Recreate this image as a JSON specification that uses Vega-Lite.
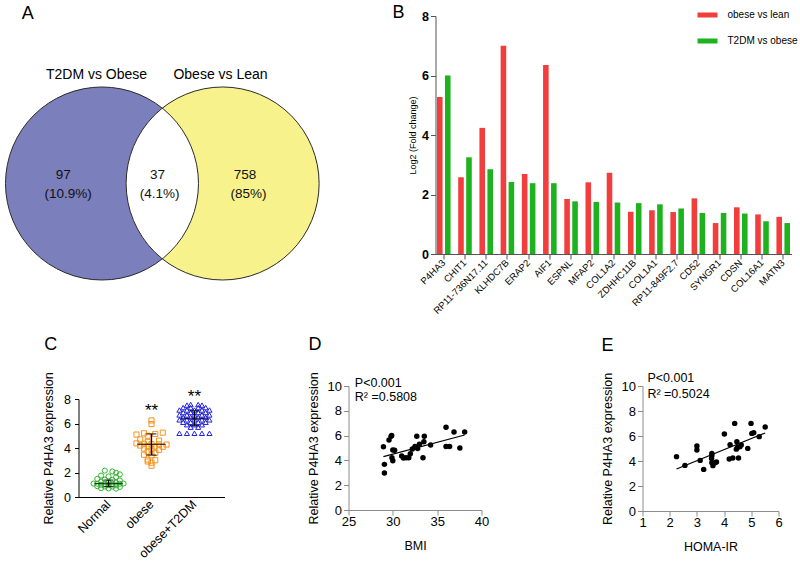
{
  "$schema": "https://vega.github.io/schema/vega-lite/v6.json",
  "background": "white",
  "padding": {"left": 2.5, "top": 4, "right": 5, "bottom": 5},
  "config": {
    "view": {"stroke": null},
    "font": "Liberation Sans",
    "axis": {"grid": false, "labelOverlap": false, "labelColor": "#000", "titleColor": "#000", "titleFontWeight": "normal", "labelFont": "Liberation Sans", "titleFont": "Liberation Sans"}
  },
  "datasets": {
    "vennL": [{"x": 0, "y": 0, "set": "T2DM vs Obese"}],
    "vennR": [{"x": 1.25, "y": 0, "set": "Obese vs Lean"}],
    "venn": [{"x": 0, "y": 0, "set": "T2DM vs Obese"}, {"x": 1.25, "y": 0, "set": "Obese vs Lean"}],
    "lens": [{"x": 0.625, "y": 0}],
    "vennTitles": [{"x": -0.057, "y": 1.126, "t": "T2DM vs Obese"}, {"x": 1.228, "y": 1.126, "t": "Obese vs Lean"}],
    "vennNums": [
      {"x": -0.401, "y": 0.083, "t": "97"}, {"x": -0.35, "y": -0.112, "t": "(10.9%)"},
      {"x": 0.575, "y": 0.083, "t": "37"}, {"x": 0.596, "y": -0.112, "t": "(4.1%)"},
      {"x": 1.482, "y": 0.083, "t": "758"}, {"x": 1.518, "y": -0.112, "t": "(85%)"}
    ],
    "letterA": [{"x": -0.769, "y": 1.756, "t": "A"}],
    "genes": [
      {"gene": "P4HA3", "series": "obese vs lean", "value": 5.28}, {"gene": "P4HA3", "series": "T2DM vs obese", "value": 6.0},
      {"gene": "CHIT1", "series": "obese vs lean", "value": 2.58}, {"gene": "CHIT1", "series": "T2DM vs obese", "value": 3.25},
      {"gene": "RP11-736N17.11", "series": "obese vs lean", "value": 4.24}, {"gene": "RP11-736N17.11", "series": "T2DM vs obese", "value": 2.85},
      {"gene": "KLHDC7B", "series": "obese vs lean", "value": 7.0}, {"gene": "KLHDC7B", "series": "T2DM vs obese", "value": 2.42},
      {"gene": "ERAP2", "series": "obese vs lean", "value": 2.69}, {"gene": "ERAP2", "series": "T2DM vs obese", "value": 2.38},
      {"gene": "AIF1", "series": "obese vs lean", "value": 6.35}, {"gene": "AIF1", "series": "T2DM vs obese", "value": 2.38},
      {"gene": "ESPNL", "series": "obese vs lean", "value": 1.85}, {"gene": "ESPNL", "series": "T2DM vs obese", "value": 1.77},
      {"gene": "MFAP2", "series": "obese vs lean", "value": 2.41}, {"gene": "MFAP2", "series": "T2DM vs obese", "value": 1.75},
      {"gene": "COL1A2", "series": "obese vs lean", "value": 2.73}, {"gene": "COL1A2", "series": "T2DM vs obese", "value": 1.73},
      {"gene": "ZDHHC11B", "series": "obese vs lean", "value": 1.42}, {"gene": "ZDHHC11B", "series": "T2DM vs obese", "value": 1.71},
      {"gene": "COL1A1", "series": "obese vs lean", "value": 1.47}, {"gene": "COL1A1", "series": "T2DM vs obese", "value": 1.67},
      {"gene": "RP11-849F2.7", "series": "obese vs lean", "value": 1.41}, {"gene": "RP11-849F2.7", "series": "T2DM vs obese", "value": 1.53},
      {"gene": "CD52", "series": "obese vs lean", "value": 1.87}, {"gene": "CD52", "series": "T2DM vs obese", "value": 1.38},
      {"gene": "SYNGR1", "series": "obese vs lean", "value": 1.04}, {"gene": "SYNGR1", "series": "T2DM vs obese", "value": 1.38},
      {"gene": "CDSN", "series": "obese vs lean", "value": 1.57}, {"gene": "CDSN", "series": "T2DM vs obese", "value": 1.36},
      {"gene": "COL16A1", "series": "obese vs lean", "value": 1.33}, {"gene": "COL16A1", "series": "T2DM vs obese", "value": 1.1},
      {"gene": "MATN3", "series": "obese vs lean", "value": 1.25}, {"gene": "MATN3", "series": "T2DM vs obese", "value": 1.04}
    ],
    "letterB": [{"x": -0.104, "value": 8.1, "t": "B"}],
    "cpts": [
      {"g": "Normal", "v": 2.15, "s": -1}, {"g": "Normal", "v": 2.08, "s": 1}, {"g": "Normal", "v": 1.98, "s": 2}, {"g": "Normal", "v": 1.85, "s": 3},
      {"g": "Normal", "v": 1.75, "s": -2}, {"g": "Normal", "v": 1.68, "s": 0}, {"g": "Normal", "v": 1.62, "s": 2},
      {"g": "Normal", "v": 1.48, "s": -3}, {"g": "Normal", "v": 1.42, "s": -1}, {"g": "Normal", "v": 1.4, "s": 1}, {"g": "Normal", "v": 1.35, "s": 3},
      {"g": "Normal", "v": 1.25, "s": -2}, {"g": "Normal", "v": 1.2, "s": 0}, {"g": "Normal", "v": 1.18, "s": 2},
      {"g": "Normal", "v": 1.1, "s": -4}, {"g": "Normal", "v": 1.08, "s": -3}, {"g": "Normal", "v": 1.05, "s": -1}, {"g": "Normal", "v": 1.05, "s": 1}, {"g": "Normal", "v": 1.08, "s": 3}, {"g": "Normal", "v": 1.1, "s": 4},
      {"g": "Normal", "v": 1.0, "s": -2}, {"g": "Normal", "v": 0.98, "s": 0}, {"g": "Normal", "v": 0.95, "s": 2},
      {"g": "Normal", "v": 0.88, "s": -3}, {"g": "Normal", "v": 0.85, "s": -1}, {"g": "Normal", "v": 0.85, "s": 1}, {"g": "Normal", "v": 0.82, "s": 3},
      {"g": "Normal", "v": 0.72, "s": -2}, {"g": "Normal", "v": 0.7, "s": 0}, {"g": "Normal", "v": 0.68, "s": 2},
      {"g": "obese", "v": 6.25, "s": 0}, {"g": "obese", "v": 5.95, "s": 0},
      {"g": "obese", "v": 5.25, "s": 3}, {"g": "obese", "v": 5.2, "s": -2}, {"g": "obese", "v": 5.15, "s": 1}, {"g": "obese", "v": 5.1, "s": -4}, {"g": "obese", "v": 5.0, "s": -1},
      {"g": "obese", "v": 4.7, "s": -3}, {"g": "obese", "v": 4.6, "s": 2}, {"g": "obese", "v": 4.5, "s": -1},
      {"g": "obese", "v": 4.38, "s": -4}, {"g": "obese", "v": 4.35, "s": -2}, {"g": "obese", "v": 4.32, "s": 0}, {"g": "obese", "v": 4.3, "s": 2}, {"g": "obese", "v": 4.28, "s": 4},
      {"g": "obese", "v": 4.2, "s": -3}, {"g": "obese", "v": 4.15, "s": -1}, {"g": "obese", "v": 4.12, "s": 1}, {"g": "obese", "v": 4.1, "s": 3},
      {"g": "obese", "v": 3.95, "s": -2}, {"g": "obese", "v": 3.9, "s": 0}, {"g": "obese", "v": 3.85, "s": 2},
      {"g": "obese", "v": 3.7, "s": -1}, {"g": "obese", "v": 3.6, "s": 1},
      {"g": "obese", "v": 3.45, "s": -2}, {"g": "obese", "v": 3.4, "s": 0},
      {"g": "obese", "v": 3.05, "s": -1}, {"g": "obese", "v": 3.0, "s": 1}, {"g": "obese", "v": 2.9, "s": -1}, {"g": "obese", "v": 2.8, "s": 0}, {"g": "obese", "v": 2.55, "s": 0},
      {"g": "obese+T2DM", "v": 7.55, "s": -1}, {"g": "obese+T2DM", "v": 7.55, "s": 1}, {"g": "obese+T2DM", "v": 7.5, "s": -2}, {"g": "obese+T2DM", "v": 7.5, "s": 2},
      {"g": "obese+T2DM", "v": 7.3, "s": -3}, {"g": "obese+T2DM", "v": 7.3, "s": -1}, {"g": "obese+T2DM", "v": 7.3, "s": 1}, {"g": "obese+T2DM", "v": 7.3, "s": 3},
      {"g": "obese+T2DM", "v": 7.1, "s": -4}, {"g": "obese+T2DM", "v": 7.1, "s": -2}, {"g": "obese+T2DM", "v": 7.1, "s": 0}, {"g": "obese+T2DM", "v": 7.1, "s": 2}, {"g": "obese+T2DM", "v": 7.1, "s": 4},
      {"g": "obese+T2DM", "v": 6.9, "s": -3}, {"g": "obese+T2DM", "v": 6.9, "s": -1}, {"g": "obese+T2DM", "v": 6.9, "s": 1}, {"g": "obese+T2DM", "v": 6.9, "s": 3},
      {"g": "obese+T2DM", "v": 6.7, "s": -4}, {"g": "obese+T2DM", "v": 6.7, "s": -2}, {"g": "obese+T2DM", "v": 6.7, "s": 0}, {"g": "obese+T2DM", "v": 6.7, "s": 2}, {"g": "obese+T2DM", "v": 6.7, "s": 4},
      {"g": "obese+T2DM", "v": 6.5, "s": -3}, {"g": "obese+T2DM", "v": 6.5, "s": -1}, {"g": "obese+T2DM", "v": 6.5, "s": 1}, {"g": "obese+T2DM", "v": 6.5, "s": 3},
      {"g": "obese+T2DM", "v": 6.3, "s": -4}, {"g": "obese+T2DM", "v": 6.3, "s": -2}, {"g": "obese+T2DM", "v": 6.3, "s": 0}, {"g": "obese+T2DM", "v": 6.3, "s": 2}, {"g": "obese+T2DM", "v": 6.3, "s": 4},
      {"g": "obese+T2DM", "v": 6.1, "s": -3}, {"g": "obese+T2DM", "v": 6.1, "s": -1}, {"g": "obese+T2DM", "v": 6.1, "s": 1}, {"g": "obese+T2DM", "v": 6.1, "s": 3},
      {"g": "obese+T2DM", "v": 5.9, "s": -2}, {"g": "obese+T2DM", "v": 5.9, "s": 0}, {"g": "obese+T2DM", "v": 5.9, "s": 2},
      {"g": "obese+T2DM", "v": 5.7, "s": -1}, {"g": "obese+T2DM", "v": 5.7, "s": 1},
      {"g": "obese+T2DM", "v": 5.2, "s": -4}, {"g": "obese+T2DM", "v": 5.2, "s": -2}, {"g": "obese+T2DM", "v": 5.2, "s": 0}, {"g": "obese+T2DM", "v": 5.2, "s": 2}, {"g": "obese+T2DM", "v": 5.2, "s": 4}
    ],
    "cstats": [
      {"g": "Normal", "v": 1.1, "lo": 0.85, "hi": 1.38},
      {"g": "obese", "v": 4.3, "lo": 3.42, "hi": 5.15},
      {"g": "obese+T2DM", "v": 6.42, "lo": 5.82, "hi": 7.05}
    ],
    "cstars": [{"g": "obese", "v": 7.0, "t": "**"}, {"g": "obese+T2DM", "v": 8.2, "t": "**"}],
    "letterC": [{"x": -0.19, "v": 12.38, "t": "C"}],
    "dpts": [
      {"x": 28.94, "y": 5.1}, {"x": 29.05, "y": 3.68}, {"x": 29.05, "y": 2.98}, {"x": 29.57, "y": 5.65}, {"x": 29.8, "y": 5.94},
      {"x": 29.87, "y": 6.0}, {"x": 30.0, "y": 4.84}, {"x": 30.2, "y": 4.81}, {"x": 29.9, "y": 4.22}, {"x": 30.0, "y": 3.98},
      {"x": 31.0, "y": 4.35}, {"x": 31.2, "y": 4.19}, {"x": 31.5, "y": 4.22}, {"x": 31.8, "y": 4.22}, {"x": 31.97, "y": 4.54},
      {"x": 32.2, "y": 4.92}, {"x": 32.5, "y": 5.13}, {"x": 32.7, "y": 5.94}, {"x": 32.8, "y": 4.95}, {"x": 33.0, "y": 5.3},
      {"x": 33.4, "y": 4.22}, {"x": 33.5, "y": 5.51}, {"x": 33.55, "y": 5.94}, {"x": 34.26, "y": 5.24}, {"x": 36.0, "y": 6.67},
      {"x": 36.0, "y": 5.13}, {"x": 36.4, "y": 5.13}, {"x": 36.9, "y": 6.29}, {"x": 37.56, "y": 5.0}, {"x": 38.1, "y": 6.29}
    ],
    "dline": [{"x": 28.94, "y": 4.3}, {"x": 38.1, "y": 6.05}],
    "dtext": [{"x": 25.71, "y": 10.26, "t": "P<0.001"}, {"x": 25.71, "y": 9.14, "t": "R² =0.5808"}],
    "letterD": [{"x": 21.22, "y": 13.29, "t": "D"}],
    "epts": [
      {"x": 2.25, "y": 4.35}, {"x": 2.56, "y": 3.65}, {"x": 3.0, "y": 5.2}, {"x": 3.0, "y": 4.88}, {"x": 3.12, "y": 4.05},
      {"x": 3.25, "y": 3.33}, {"x": 3.55, "y": 4.61}, {"x": 3.54, "y": 4.21}, {"x": 3.55, "y": 3.87}, {"x": 3.59, "y": 3.63},
      {"x": 3.67, "y": 3.87}, {"x": 3.72, "y": 3.92}, {"x": 4.01, "y": 6.16}, {"x": 4.19, "y": 4.16}, {"x": 4.22, "y": 5.31},
      {"x": 4.32, "y": 4.24}, {"x": 4.39, "y": 7.01}, {"x": 4.47, "y": 5.55}, {"x": 4.49, "y": 5.09}, {"x": 4.53, "y": 4.24},
      {"x": 4.58, "y": 5.15}, {"x": 4.63, "y": 5.28}, {"x": 4.87, "y": 5.01}, {"x": 4.99, "y": 7.01}, {"x": 5.02, "y": 6.21},
      {"x": 5.09, "y": 6.27}, {"x": 5.29, "y": 5.95}, {"x": 5.51, "y": 6.72}, {"x": 3.55, "y": 4.45}, {"x": 4.45, "y": 4.95}
    ],
    "eline": [{"x": 2.25, "y": 3.36}, {"x": 5.51, "y": 6.24}],
    "etext": [{"x": 1.18, "y": 10.62, "t": "P<0.001"}, {"x": 1.18, "y": 9.38, "t": "R² =0.5024"}],
    "letterE": [{"x": -0.287, "y": 13.22, "t": "E"}]
  },
  "vconcat": [
    {
      "hconcat": [
        {
          "width": 254,
          "height": 238,
          "encoding": {
            "x": {"field": "x", "type": "quantitative", "scale": {"domain": [-0.2435, 2.3886], "nice": false, "zero": false}, "axis": null},
            "y": {"field": "y", "type": "quantitative", "scale": {"domain": [-0.7306, 1.7358], "nice": false, "zero": false}, "axis": null}
          },
          "layer": [
            {
              "data": {"name": "vennL"},
              "mark": {"type": "point", "shape": "circle", "filled": true, "size": 37249, "color": "#7b7fbb", "opacity": 1, "strokeWidth": 0}
            },
            {
              "data": {"name": "vennR"},
              "mark": {"type": "point", "shape": "circle", "filled": true, "size": 37249, "color": "#f7f28b", "opacity": 1, "strokeWidth": 0}
            },
            {
              "data": {"name": "lens"},
              "mark": {"type": "point", "shape": "M0,-0.7806A1,1,0,0,1,0,0.7806A1,1,0,0,1,0,-0.7806Z", "filled": true, "size": 37249, "color": "#ffffff", "opacity": 1, "strokeWidth": 0}
            },
            {
              "data": {"name": "venn"},
              "mark": {"type": "point", "shape": "circle", "filled": false, "size": 37249, "color": "#2a2a2a", "strokeWidth": 1, "opacity": 1}
            },
            {
              "data": {"name": "vennTitles"},
              "mark": {"type": "text", "fontSize": 14, "align": "center", "baseline": "middle", "color": "#000"},
              "encoding": {"text": {"field": "t"}}
            },
            {
              "data": {"name": "vennNums"},
              "mark": {"type": "text", "fontSize": 13.5, "align": "center", "baseline": "middle", "color": "#111"},
              "encoding": {"text": {"field": "t"}}
            },
            {
              "data": {"name": "letterA"},
              "mark": {"type": "text", "fontSize": 18, "align": "center", "baseline": "middle", "color": "#000"},
              "encoding": {"text": {"field": "t"}}
            }
          ]
        },
        {
          "width": 356,
          "height": 238,
          "layer": [
            {
              "data": {"name": "genes"},
              "mark": {"type": "bar"},
              "encoding": {
                "x": {"field": "gene", "type": "nominal", "sort": null, "title": null,
                  "scale": {"paddingInner": 0.36, "paddingOuter": 0.07},
                  "axis": {"labelAngle": -45, "labelAlign": "right", "labelBaseline": "middle", "tickSize": 5, "labelPadding": 2, "labelFontSize": 9.5, "domainColor": "#555", "tickColor": "#555"}},
                "xOffset": {"field": "series", "type": "nominal", "sort": ["obese vs lean", "T2DM vs obese"], "scale": {"domain": ["obese vs lean", "T2DM vs obese"], "paddingInner": 0.3}},
                "y": {"field": "value", "type": "quantitative", "title": "Log2 (Fold change)",
                  "scale": {"domain": [0, 8], "nice": false},
                  "axis": {"values": [0, 2, 4, 6, 8], "tickSize": 5, "labelPadding": 2, "labelFontSize": 12.5, "labelFontWeight": "bold", "titleFontSize": 9, "titlePadding": 4, "domainColor": "#555", "tickColor": "#555"}},
                "color": {"field": "series", "type": "nominal", "sort": ["obese vs lean", "T2DM vs obese"],
                  "scale": {"domain": ["obese vs lean", "T2DM vs obese"], "range": ["#f23d3d", "#1fb21f"]},
                  "legend": {"orient": "none", "legendX": 262, "legendY": -11, "title": null, "symbolType": "M-1,-0.25H1V0.25H-1Z", "symbolSize": 400, "symbolStrokeWidth": 0, "labelFontSize": 10, "labelOffset": 10, "rowPadding": 11, "padding": 0}}
              }
            },
            {
              "data": {"name": "letterB"},
              "mark": {"type": "text", "fontSize": 18, "align": "center", "baseline": "middle", "color": "#000"},
              "encoding": {
                "x": {"field": "x", "type": "quantitative", "scale": {"domain": [0, 1], "nice": false}, "axis": null},
                "y": {"field": "value", "type": "quantitative", "title": "Log2 (Fold change)", "scale": {"domain": [0, 8], "nice": false},
                  "axis": {"values": [0, 2, 4, 6, 8], "tickSize": 5, "labelPadding": 2, "labelFontSize": 12.5, "labelFontWeight": "bold", "titleFontSize": 9, "titlePadding": 4, "domainColor": "#555", "tickColor": "#555"}},
                "text": {"field": "t"}
              }
            }
          ],
          "resolve": {"scale": {"x": "independent"}}
        }
      ],
      "spacing": 103,
      "bounds": "flush",
      "resolve": {"scale": {"color": "independent", "xOffset": "independent"}}
    },
    {
      "hconcat": [
        {
          "hconcat": [
            {
              "width": 146,
              "height": 98,
              "layer": [
                {
                  "layer": [
                    {
                      "data": {"name": "cpts"},
                      "mark": {"type": "point", "filled": false, "size": 26, "strokeWidth": 1, "opacity": 1},
                      "encoding": {
                        "x": {"field": "g", "type": "nominal", "title": null, "scale": {"domain": ["Normal", "obese", "obese+T2DM"], "paddingInner": 0.3, "paddingOuter": 0.35},
                          "axis": {"labelAngle": -45, "labelAlign": "right", "labelBaseline": "middle", "ticks": false, "labelPadding": 5, "labelFontSize": 12.5, "domainColor": "#000"}},
                        "xOffset": {"field": "s", "type": "ordinal", "scale": {"domain": [-4, -3, -2, -1, 0, 1, 2, 3, 4], "paddingInner": 0, "paddingOuter": 0}},
                        "y": {"field": "v", "type": "quantitative", "title": "Relative P4HA3 expression", "scale": {"domain": [0, 8], "nice": false},
                          "axis": {"values": [0, 2, 4, 6, 8], "tickSize": 4, "labelPadding": 4, "labelFontSize": 12.5, "titleFontSize": 12.5, "titlePadding": 8, "domainColor": "#000", "tickColor": "#000"}},
                        "color": {"field": "g", "type": "nominal", "scale": {"domain": ["Normal", "obese", "obese+T2DM"], "range": ["#33b233", "#f7931e", "#2222dd"]}, "legend": null},
                        "shape": {"field": "g", "type": "nominal", "scale": {"domain": ["Normal", "obese", "obese+T2DM"], "range": ["circle", "square", "triangle-up"]}, "legend": null}
                      }
                    },
                    {
                      "data": {"name": "cstats"},
                      "mark": {"type": "tick", "orient": "horizontal", "size": 28, "thickness": 1.3, "color": "#000"},
                      "encoding": {
                        "x": {"field": "g", "type": "nominal", "title": null, "scale": {"domain": ["Normal", "obese", "obese+T2DM"]},
                          "axis": {"labelAngle": -45, "labelAlign": "right", "labelBaseline": "middle", "ticks": false, "labelPadding": 5, "labelFontSize": 12.5, "domainColor": "#000"}},
                        "y": {"field": "v", "type": "quantitative", "title": "Relative P4HA3 expression", "scale": {"domain": [0, 8], "nice": false},
                          "axis": {"values": [0, 2, 4, 6, 8], "tickSize": 4, "labelPadding": 4, "labelFontSize": 12.5, "titleFontSize": 12.5, "titlePadding": 8, "domainColor": "#000", "tickColor": "#000"}}
                      }
                    },
                    {
                      "data": {"name": "cstats"},
                      "mark": {"type": "rule", "strokeWidth": 1.3, "color": "#000"},
                      "encoding": {
                        "x": {"field": "g", "type": "nominal", "title": null, "scale": {"domain": ["Normal", "obese", "obese+T2DM"]},
                          "axis": {"labelAngle": -45, "labelAlign": "right", "labelBaseline": "middle", "ticks": false, "labelPadding": 5, "labelFontSize": 12.5, "domainColor": "#000"}},
                        "y": {"field": "lo", "type": "quantitative", "title": "Relative P4HA3 expression", "scale": {"domain": [0, 8], "nice": false},
                          "axis": {"values": [0, 2, 4, 6, 8], "tickSize": 4, "labelPadding": 4, "labelFontSize": 12.5, "titleFontSize": 12.5, "titlePadding": 8, "domainColor": "#000", "tickColor": "#000"}},
                        "y2": {"field": "hi"}
                      }
                    },
                    {
                      "data": {"name": "cstats"},
                      "mark": {"type": "tick", "orient": "horizontal", "size": 10, "thickness": 1.3, "color": "#000"},
                      "encoding": {
                        "x": {"field": "g", "type": "nominal", "title": null, "scale": {"domain": ["Normal", "obese", "obese+T2DM"]},
                          "axis": {"labelAngle": -45, "labelAlign": "right", "labelBaseline": "middle", "ticks": false, "labelPadding": 5, "labelFontSize": 12.5, "domainColor": "#000"}},
                        "y": {"field": "lo", "type": "quantitative", "title": "Relative P4HA3 expression", "scale": {"domain": [0, 8], "nice": false},
                          "axis": {"values": [0, 2, 4, 6, 8], "tickSize": 4, "labelPadding": 4, "labelFontSize": 12.5, "titleFontSize": 12.5, "titlePadding": 8, "domainColor": "#000", "tickColor": "#000"}}
                      }
                    },
                    {
                      "data": {"name": "cstats"},
                      "mark": {"type": "tick", "orient": "horizontal", "size": 10, "thickness": 1.3, "color": "#000"},
                      "encoding": {
                        "x": {"field": "g", "type": "nominal", "title": null, "scale": {"domain": ["Normal", "obese", "obese+T2DM"]},
                          "axis": {"labelAngle": -45, "labelAlign": "right", "labelBaseline": "middle", "ticks": false, "labelPadding": 5, "labelFontSize": 12.5, "domainColor": "#000"}},
                        "y": {"field": "hi", "type": "quantitative", "title": "Relative P4HA3 expression", "scale": {"domain": [0, 8], "nice": false},
                          "axis": {"values": [0, 2, 4, 6, 8], "tickSize": 4, "labelPadding": 4, "labelFontSize": 12.5, "titleFontSize": 12.5, "titlePadding": 8, "domainColor": "#000", "tickColor": "#000"}}
                      }
                    },
                    {
                      "data": {"name": "cstars"},
                      "mark": {"type": "text", "fontSize": 17, "align": "center", "baseline": "middle", "color": "#000"},
                      "encoding": {
                        "x": {"field": "g", "type": "nominal", "title": null, "scale": {"domain": ["Normal", "obese", "obese+T2DM"]},
                          "axis": {"labelAngle": -45, "labelAlign": "right", "labelBaseline": "middle", "ticks": false, "labelPadding": 5, "labelFontSize": 12.5, "domainColor": "#000"}},
                        "y": {"field": "v", "type": "quantitative", "title": "Relative P4HA3 expression", "scale": {"domain": [0, 8], "nice": false},
                          "axis": {"values": [0, 2, 4, 6, 8], "tickSize": 4, "labelPadding": 4, "labelFontSize": 12.5, "titleFontSize": 12.5, "titlePadding": 8, "domainColor": "#000", "tickColor": "#000"}},
                        "text": {"field": "t"}
                      }
                    }
                  ]
                },
                {
                  "data": {"name": "letterC"},
                  "mark": {"type": "text", "fontSize": 18, "align": "center", "baseline": "middle", "color": "#000"},
                  "encoding": {
                    "x": {"field": "x", "type": "quantitative", "scale": {"domain": [0, 1], "nice": false}, "axis": null},
                    "y": {"field": "v", "type": "quantitative", "title": "Relative P4HA3 expression", "scale": {"domain": [0, 8], "nice": false},
                      "axis": {"values": [0, 2, 4, 6, 8], "tickSize": 4, "labelPadding": 4, "labelFontSize": 12.5, "titleFontSize": 12.5, "titlePadding": 8, "domainColor": "#000", "tickColor": "#000"}},
                    "text": {"field": "t"}
                  }
                }
              ],
              "resolve": {"scale": {"x": "independent"}}
            },
            {
              "width": 133,
              "height": 124,
              "encoding": {
                "x": {"field": "x", "type": "quantitative", "title": "BMI", "scale": {"domain": [25, 40], "nice": false, "zero": false},
                  "axis": {"values": [25, 30, 35, 40], "tickSize": 5, "labelPadding": 0, "labelFontSize": 13, "titleFontSize": 12.5, "titlePadding": 11, "labelFlush": false, "domainColor": "#8c8c8c", "tickColor": "#8c8c8c"}},
                "y": {"field": "y", "type": "quantitative", "title": "Relative P4HA3 expression", "scale": {"domain": [0, 10], "nice": false},
                  "axis": {"values": [0, 2, 4, 6, 8, 10], "tickSize": 5, "labelPadding": 2, "labelFontSize": 13, "titleFontSize": 12.5, "titlePadding": 7, "domainColor": "#8c8c8c", "tickColor": "#8c8c8c"}}
              },
              "layer": [
                {"data": {"name": "dpts"}, "mark": {"type": "circle", "size": 30, "color": "#000", "opacity": 1}},
                {"data": {"name": "dline"}, "mark": {"type": "line", "color": "#000", "strokeWidth": 1.2}},
                {"data": {"name": "dtext"}, "mark": {"type": "text", "fontSize": 12.5, "align": "left", "baseline": "middle", "color": "#000"}, "encoding": {"text": {"field": "t"}}},
                {"data": {"name": "letterD"}, "mark": {"type": "text", "fontSize": 18, "align": "center", "baseline": "middle", "color": "#000"}, "encoding": {"text": {"field": "t"}}}
              ]
            }
          ],
          "spacing": 124,
          "bounds": "flush",
          "center": true,
          "resolve": {"scale": {"color": "independent", "shape": "independent", "xOffset": "independent"}}
        },
        {
          "width": 136,
          "height": 125,
          "encoding": {
            "x": {"field": "x", "type": "quantitative", "title": "HOMA-IR", "scale": {"domain": [1, 6], "nice": false, "zero": false},
              "axis": {"values": [1, 2, 3, 4, 5, 6], "tickSize": 5, "labelPadding": 0, "labelFontSize": 13, "titleFontSize": 12.5, "titlePadding": 11, "labelFlush": false, "domainColor": "#8c8c8c", "tickColor": "#8c8c8c"}},
            "y": {"field": "y", "type": "quantitative", "title": "Relative P4HA3 expression", "scale": {"domain": [0, 10], "nice": false},
              "axis": {"values": [0, 2, 4, 6, 8, 10], "tickSize": 5, "labelPadding": 2, "labelFontSize": 13, "titleFontSize": 12.5, "titlePadding": 7, "domainColor": "#8c8c8c", "tickColor": "#8c8c8c"}}
          },
          "layer": [
            {"data": {"name": "epts"}, "mark": {"type": "circle", "size": 30, "color": "#000", "opacity": 1}},
            {"data": {"name": "eline"}, "mark": {"type": "line", "color": "#000", "strokeWidth": 1.2}},
            {"data": {"name": "etext"}, "mark": {"type": "text", "fontSize": 12.5, "align": "left", "baseline": "middle", "color": "#000"}, "encoding": {"text": {"field": "t"}}},
            {"data": {"name": "letterE"}, "mark": {"type": "text", "fontSize": 18, "align": "center", "baseline": "middle", "color": "#000"}, "encoding": {"text": {"field": "t"}}}
          ]
        }
      ],
      "spacing": 564,
      "bounds": "flush",
      "resolve": {"scale": {"color": "independent", "shape": "independent", "xOffset": "independent"}}
    }
  ],
  "spacing": 370,
  "bounds": "flush",
  "resolve": {"scale": {"color": "independent", "shape": "independent", "xOffset": "independent"}}
}
